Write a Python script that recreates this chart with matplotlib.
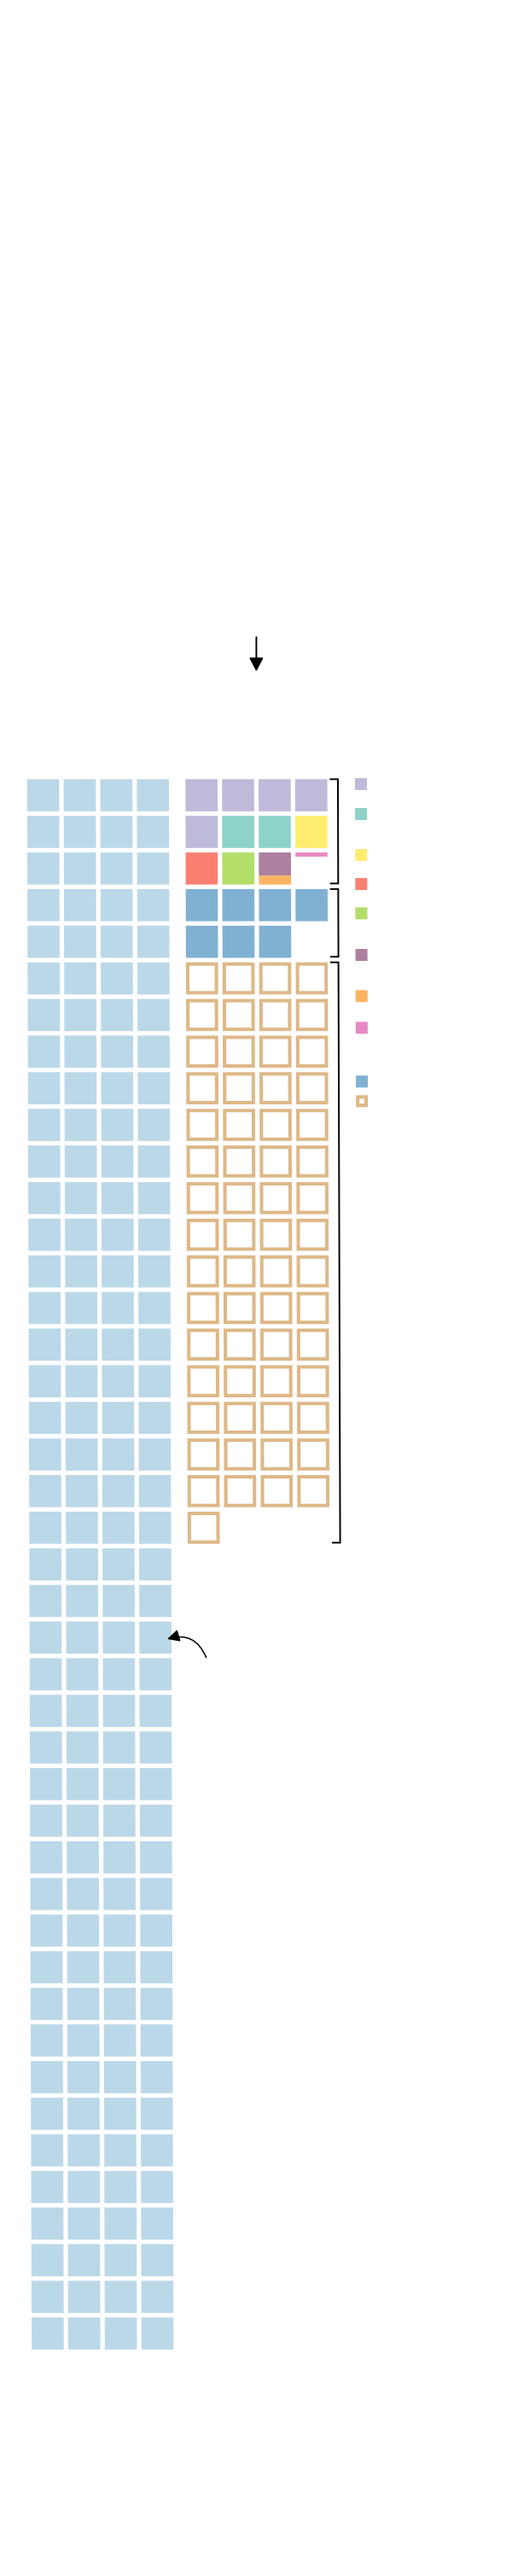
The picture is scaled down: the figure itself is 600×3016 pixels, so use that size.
import numpy as np
import matplotlib
matplotlib.use('Agg')
import matplotlib.pyplot as plt
from matplotlib.patches import Rectangle
import matplotlib.transforms as mtransforms

# ---- data (in squares) ----
left_count = 172
left_color = '#bbd8e9'

# right block: three groups, each one starts on a fresh row
group_a_values = [5, 2, 1, 1, 1, 0.72, 0.28, 0.13]
group_a_colors = ['#bebada', '#8dd3c7', '#ffed6f', '#fb8072', '#b3de69',
                  '#ad809f', '#fdb462', '#e78ac3']
group_b_values = [7]
group_b_colors = ['#80b1d3']
group_c_values = [61]
group_c_colors = ['#deb887']   # drawn as outlines

# legend rows (offset in squares from top of grid)
legend_offsets = [-0.03, 0.787, 1.906, 2.699, 3.499, 4.634, 5.76, 6.623, 8.092, 8.628]

# ---- layout ----
PX = 42.88            # pixels per grid step
x0_px, y0_px = 31.7, 912.3
cols = 4
cell = 0.877
right_x0 = 4.328
shear = 0.00295
ol_lw = 2.9           # outline width in pt

fig = plt.figure(figsize=(6, 30.16), dpi=100)
ax = fig.add_axes([0, 0, 1, 1])
ax.set_xlim(-x0_px / PX, (600 - x0_px) / PX)
ax.set_ylim((3016 - y0_px) / PX, -y0_px / PX)
ax.axis('off')
tr = mtransforms.Affine2D().skew(np.arctan(shear), 0) + ax.transData

inset = ol_lw * 100 / 72 / 2 / PX

# left block
for i in range(left_count):
    r, c = divmod(i, cols)
    ax.add_patch(Rectangle((c, r), cell, cell, facecolor=left_color,
                           edgecolor='none', transform=tr))


def draw_group(values, colors, row0, outline=False):
    pos = 0.0
    for v, colr in zip(values, colors):
        end = round(pos + v, 6)
        while pos < end - 1e-9:
            k = int(np.floor(pos + 1e-9))
            f0 = pos - k
            f1 = min(end, k + 1) - k
            r, c = divmod(k, cols)
            x = right_x0 + c
            y = row0 + r + f0 * cell
            h = (f1 - f0) * cell
            if outline:
                ax.add_patch(Rectangle((x + inset, y + inset), cell - 2 * inset,
                                       h - 2 * inset, facecolor='none',
                                       edgecolor=colr, lw=ol_lw, transform=tr))
            else:
                ax.add_patch(Rectangle((x, y), cell, h, facecolor=colr,
                                       edgecolor='none', transform=tr))
            pos = round(k + f1, 6)
    nrows = int(np.ceil(pos / cols - 1e-9))
    # bracket
    bx = right_x0 + 3 + cell + 0.29
    top, bot = row0, row0 + nrows - 1 + cell - 0.03
    ax.plot([bx - 0.2, bx, bx, bx - 0.2], [top, top, bot, bot], color='black',
            lw=1.4, solid_joinstyle='miter', transform=tr)
    return row0 + nrows


row = 0
row = draw_group(group_a_values, group_a_colors, row)
row = draw_group(group_b_values, group_b_colors, row)
row = draw_group(group_c_values, group_c_colors, row, outline=True)

# legend swatches
leg_colors = group_a_colors + group_b_colors + group_c_colors
lx = 8.962
ls = 14 / PX
for i, (off, colr) in enumerate(zip(legend_offsets, leg_colors)):
    if i == len(leg_colors) - 1:
        li = 4.2 / 2 / PX
        ax.add_patch(Rectangle((lx + li, off + li), ls - 2 * li, ls - 2 * li,
                               facecolor='none', edgecolor=colr, lw=3.0,
                               transform=tr))
    else:
        ax.add_patch(Rectangle((lx, off), ls, ls, facecolor=colr,
                               edgecolor='none', transform=tr))

# arrows
ax_c = right_x0 + (3 + cell) / 2
ax.annotate('', xy=(ax_c, -2.945), xytext=(ax_c, -3.878),
            arrowprops=dict(arrowstyle='-|>,head_length=0.95,head_width=0.5',
                            color='black', lw=1.4, shrinkA=0, shrinkB=0,
                            mutation_scale=10))
ax.annotate('', xy=(3.832, 23.477), xytext=(4.897, 23.983),
            arrowprops=dict(arrowstyle='-|>,head_length=0.85,head_width=0.43',
                            color='black', lw=1.1, shrinkA=0, shrinkB=0,
                            mutation_scale=10,
                            connectionstyle='arc3,rad=0.45'))

fig.savefig('out.png', dpi=100, facecolor='white')
